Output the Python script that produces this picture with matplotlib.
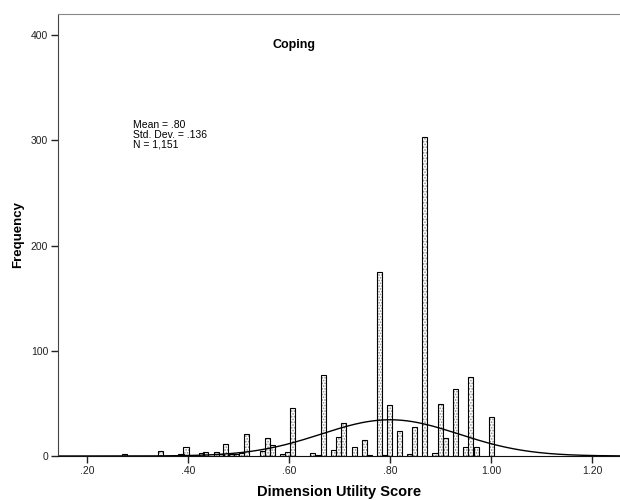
import numpy as np
import matplotlib
matplotlib.use("Agg")
import matplotlib.pyplot as plt

plt.rcParams['font.family'] = ['Liberation Sans', 'DejaVu Sans']
plt.rcParams['hatch.color'] = '#8a8a8a'
plt.rcParams['hatch.linewidth'] = 0.8

# bin centres and counts
bin_centers = [0.275, 0.345, 0.386, 0.396, 0.426, 0.435, 0.456, 0.466, 0.475, 0.486,
               0.496, 0.506, 0.516, 0.547, 0.557, 0.567, 0.587, 0.597, 0.607, 0.647,
               0.658, 0.668, 0.688, 0.698, 0.708, 0.729, 0.749, 0.759, 0.779, 0.789,
               0.799, 0.818, 0.838, 0.848, 0.869, 0.889, 0.900, 0.910, 0.929, 0.950,
               0.960, 0.971, 1.001]
counts = [2, 5, 2, 9, 3, 4, 4, 2, 11, 2,
          2, 3, 21, 5, 17, 10, 2, 4, 46, 3,
          1, 77, 6, 18, 31, 9, 15, 1, 175, 1,
          48, 24, 2, 28, 303, 3, 49, 17, 64, 9,
          75, 9, 37]
bin_width = 0.0102

mean = 0.80
sd = 0.136
n = 1151

x_ticks = [0.2, 0.4, 0.6, 0.8, 1.0, 1.2]
x_tick_labels = ['.20', '.40', '.60', '.80', '1.00', '1.20']
y_ticks = [0, 100, 200, 300, 400]

fig = plt.figure(figsize=(6.2, 5), dpi=100)
ax = fig.add_axes([58 / 620, 44 / 500, 1 - 58 / 620, 442 / 500])

# dotted fill then black outline on top
ax.bar(bin_centers, counts, width=bin_width, color='white', hatch='......',
       edgecolor='#8a8a8a', linewidth=0)
ax.bar(bin_centers, counts, width=bin_width, fill=False, edgecolor='black', linewidth=0.8)

xs = np.linspace(0.14, 1.26, 400)
curve = n * bin_width / (sd * np.sqrt(2 * np.pi)) * np.exp(-0.5 * ((xs - mean) / sd) ** 2)
ax.plot(xs, curve, color='black', linewidth=1.0)

ax.set_xlim(0.1426, 1.2554)
ax.set_ylim(0, 420)
ax.set_xticks(x_ticks)
ax.set_xticklabels(x_tick_labels)
ax.set_yticks(y_ticks)
ax.tick_params(axis='both', labelsize=7.5, colors='#222222', length=5, width=1, pad=2)

ax.spines['right'].set_visible(False)
ax.spines['top'].set_color('#888888')
ax.spines['left'].set_color('#444444')
ax.spines['bottom'].set_color('#111111')

ax.set_xlabel('Dimension Utility Score', fontsize=10.5, fontweight='bold', labelpad=7)
ax.set_ylabel('Frequency', fontsize=9.5, fontweight='bold', labelpad=5)

fig.text(294 / 620, 1 - 45 / 500, 'Coping', fontsize=9, fontweight='bold',
         ha='center', va='center')
fig.text(133 / 620, 1 - 120 / 500, 'Mean = .80\nStd. Dev. = .136\nN = 1,151',
         fontsize=7.5, ha='left', va='top', linespacing=0.95)

fig.savefig('out.png', dpi=100)
